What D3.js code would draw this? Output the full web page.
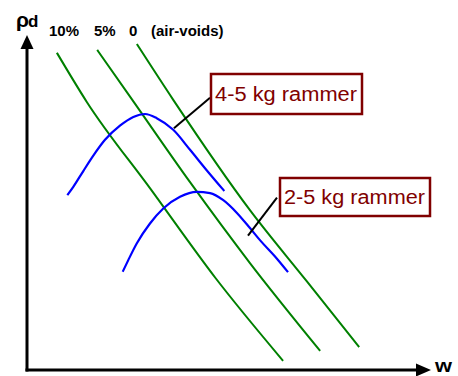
<!DOCTYPE html>
<html>
<head>
<meta charset="utf-8">
<script src="https://cdn.jsdelivr.net/npm/d3@7"></script>
<style>
  html, body { margin: 0; padding: 0; background: #fff; }
  svg { display: block; }
  text { font-family: "Liberation Sans", Arial, sans-serif; }
</style>
</head>
<body>
<svg id="chart" width="458" height="376"></svg>
<script>
// Compaction curves: dry density (Mg/m3) against water content (%)
const airVoidLabels = ["10%", "5%", "0"];
const airVoidW = [
  [2.3, 4.6, 9.5, 14.5, 19.7],
  [5.4, 8.1, 12.5, 17.15, 22.55],
  [8.45, 11.25, 17.15, 21.5, 25.55]
];
const airVoidRho = [
  [2.162, 2.044, 1.835, 1.621, 1.422],
  [2.169, 2.049, 1.853, 1.657, 1.446],
  [2.183, 2.049, 1.784, 1.614, 1.455]
];

const rammerLabels = ["4-5 kg rammer", "2-5 kg rammer"];
const heavyW   = [3.1, 3.56, 4.33, 5.1, 6.0, 7.15, 8.18, 9.08, 9.98, 11.25, 12.54, 13.82, 15.18];
const heavyRho = [1.82, 1.84, 1.878, 1.915, 1.953, 1.987, 2.008, 2.015, 2.005, 1.977, 1.929, 1.88, 1.83];
const lightW   = [7.36, 7.79, 8.44, 9.46, 10.48, 11.77, 13.05, 14.08, 15.1, 16.13, 17.15, 17.92, 19.21, 20.08];
const lightRho = [1.636, 1.664, 1.704, 1.752, 1.788, 1.816, 1.828, 1.825, 1.808, 1.778, 1.741, 1.712, 1.668, 1.635];

// leader anchor on each curve, and where it meets its label box
const leaderFromW = [11.3, 17.0];
const leaderFromRho = [1.981, 1.723];
const leaderToW = [14.08, 19.23];
const leaderToRho = [2.054, 1.814];

const svg = d3.select("#chart");
const x = d3.scaleLinear().domain([0, 30]).range([27, 417]);
const y = d3.scaleLinear().domain([1.40, 2.20]).range([370, 37]);

const line = d3.line().x(d => x(d[0])).y(d => y(d[1])).curve(d3.curveMonotoneX);

// zero / 5% / 10% air-voids lines
airVoidW.forEach((ws, i) => {
  svg.append("path")
    .datum(ws.map((w, j) => [w, airVoidRho[i][j]]))
    .attr("d", line)
    .attr("fill", "none")
    .attr("stroke", "#008000")
    .attr("stroke-width", 2);
});

// compaction curves
[[heavyW, heavyRho], [lightW, lightRho]].forEach(([ws, rs]) => {
  svg.append("path")
    .datum(ws.map((w, j) => [w, rs[j]]))
    .attr("d", line)
    .attr("fill", "none")
    .attr("stroke", "#0000ff")
    .attr("stroke-width", 2.2);
});

// axes with arrow heads
const x0 = x.range()[0], yBase = y.range()[0];
svg.append("line").attr("x1", x0).attr("y1", yBase + 1.5).attr("x2", x0).attr("y2", 46)
  .attr("stroke", "#000").attr("stroke-width", 3);
svg.append("line").attr("x1", x0 - 1.5).attr("y1", yBase).attr("x2", 420).attr("y2", yBase)
  .attr("stroke", "#000").attr("stroke-width", 3);
svg.append("path").attr("d", `M${x0},35 L${x0 - 6.5},49 L${x0 + 6.5},49 Z`).attr("fill", "#000");
svg.append("path").attr("d", `M431,${yBase} L416,${yBase - 6.5} L416,${yBase + 6.5} Z`).attr("fill", "#000");

// axis titles
const yt = svg.append("text").attr("x", 16).attr("y", 27).attr("font-weight", "bold").attr("fill", "#000");
yt.append("tspan").attr("font-size", 21).text("ρ");
yt.append("tspan").attr("font-size", 17).attr("dx", -1).text("d");
svg.append("text").attr("x", 435).attr("y", 372).attr("font-size", 18).attr("font-weight", "bold")
  .attr("textLength", 17).attr("lengthAdjust", "spacingAndGlyphs").text("w");

// air-voids line labels
const labelX = [49, 94, 129];
airVoidLabels.forEach((t, i) => {
  svg.append("text").attr("x", labelX[i]).attr("y", 36)
    .attr("font-size", 15).attr("font-weight", "bold").attr("fill", "#000").text(t);
});
svg.append("text").attr("x", 151).attr("y", 36)
  .attr("font-size", 15).attr("font-weight", "bold").attr("fill", "#000").text("(air-voids)");

// leaders and boxed labels
const boxes = [
  { x: 211, y: 74, w: 151, h: 40 },
  { x: 280, y: 178, w: 150, h: 38 }
];
rammerLabels.forEach((t, i) => {
  svg.append("line")
    .attr("x1", x(leaderFromW[i])).attr("y1", y(leaderFromRho[i]))
    .attr("x2", x(leaderToW[i])).attr("y2", y(leaderToRho[i]))
    .attr("stroke", "#000").attr("stroke-width", 2);
  const b = boxes[i];
  svg.append("rect").attr("x", b.x).attr("y", b.y).attr("width", b.w).attr("height", b.h)
    .attr("fill", "#fff").attr("stroke", "#800000").attr("stroke-width", 2.5);
  svg.append("text").attr("x", b.x + 4).attr("y", b.y + b.h / 2 + 7)
    .attr("font-size", 20).attr("fill", "#800000")
    .attr("textLength", b.w - 9).attr("lengthAdjust", "spacingAndGlyphs")
    .text(t);
});
</script>
</body>
</html>
